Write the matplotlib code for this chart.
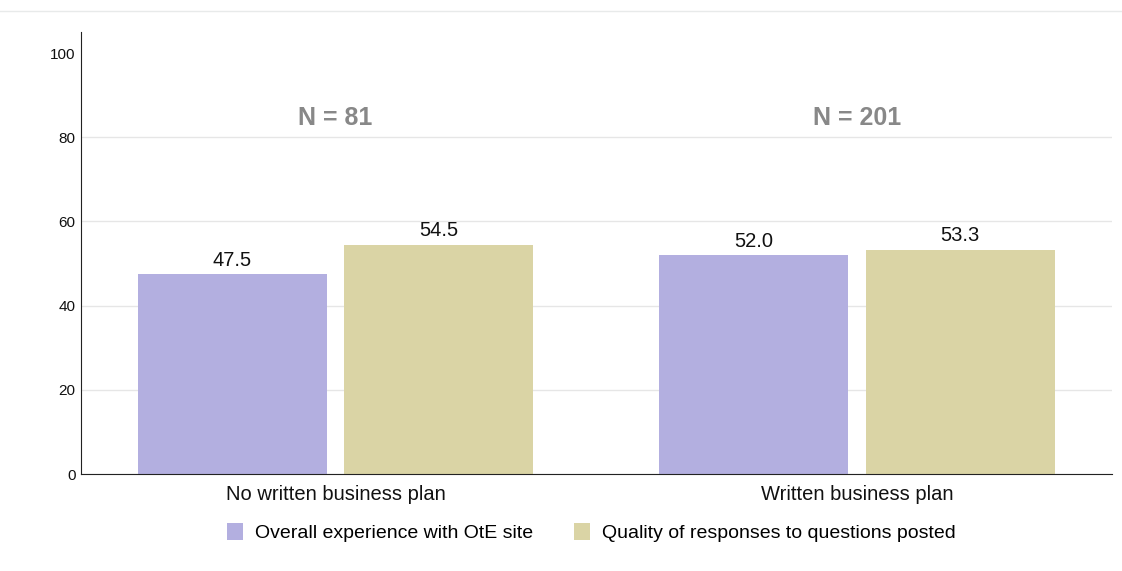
import matplotlib
matplotlib.use('Agg')
import matplotlib.pyplot as plt
import numpy as np
from matplotlib.lines import Line2D

plt.rcParams['font.family'] = ['Liberation Sans', 'DejaVu Sans']

# 数据
categories = ['No written business plan', 'Written business plan']
series_names = ['Overall experience with OtE site', 'Quality of responses to questions posted']
overall = [47.5, 52.0]
quality = [54.5, 53.3]
n_labels = ['N = 81', 'N = 201']

COLORS = ['#b3afe0', '#dad4a5']

fig = plt.figure(figsize=(11.22, 5.71), dpi=100)
ax = fig.add_axes([81 / 1122, 1 - 474 / 571, (1112 - 81) / 1122, (474 - 32) / 571])

x = np.arange(len(categories))
w = 0.362
off = 0.198
b1 = ax.bar(x - off, overall, width=w, color=COLORS[0], label=series_names[0], zorder=2)
b2 = ax.bar(x + off, quality, width=w, color=COLORS[1], label=series_names[1], zorder=2)

for bars in (b1, b2):
    for r in bars:
        ax.text(r.get_x() + r.get_width() / 2, r.get_height() + 1.0, f'{r.get_height():.1f}',
                ha='center', va='bottom', fontsize=14.5, color='#111111')

for xi, lab in zip(x, n_labels):
    ax.text(xi, 84.6, lab, ha='center', va='center', fontsize=18, fontweight='bold', color='#888888')

ax.set_xlim(-0.488, 1.489)
ax.set_ylim(0, 105)
ax.set_yticks([0, 20, 40, 60, 80, 100])
ax.set_xticks(x)
ax.set_xticklabels(categories, fontsize=14.5)
ax.tick_params(axis='y', labelsize=11, length=0, pad=4, labelcolor='#111111')
ax.tick_params(axis='x', length=0, pad=8, labelcolor='#111111')
ax.grid(axis='y', color='#e6e6e6', linewidth=1, zorder=0)
ax.get_ygridlines()[-1].set_visible(False)
ax.set_axisbelow(True)
for s in ['top', 'right']:
    ax.spines[s].set_visible(False)
ax.spines['left'].set_color('#222222')
ax.spines['bottom'].set_color('#222222')

# 顶部细线
fig.add_artist(Line2D([0, 1], [1 - 11 / 571, 1 - 11 / 571], color='#e8eaea', linewidth=1))

ax.legend(loc='center', bbox_to_anchor=(0.495, -0.133), ncol=2, frameon=False,
          fontsize=14, handlelength=0.82, handleheight=0.95, columnspacing=2.1, handletextpad=0.62)

fig.savefig('out.png', dpi=100)
